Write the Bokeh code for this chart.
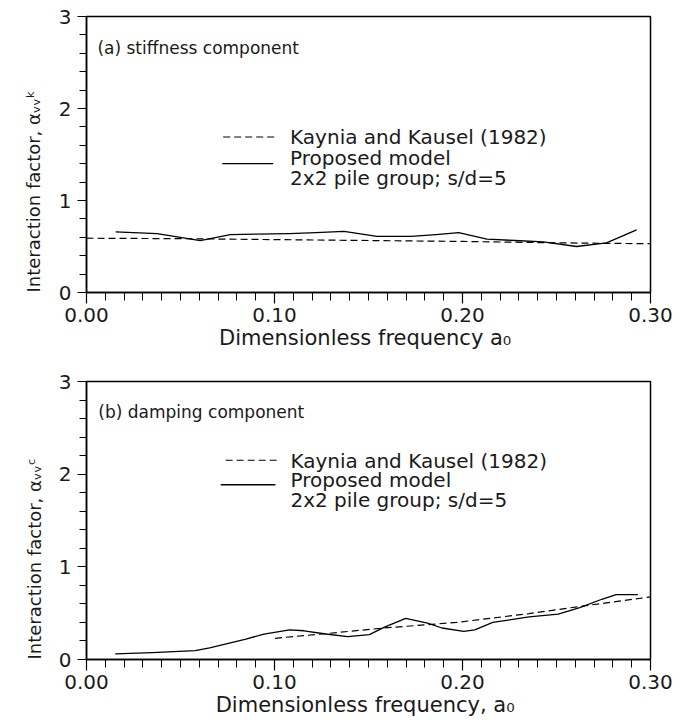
from bokeh.plotting import figure
from bokeh.layouts import column
from bokeh.models import Range1d, FixedTicker, Label, NumeralTickFormatter, Title
from bokeh.embed import file_html
from bokeh.resources import INLINE

# ---------------- data ----------------
# (a) stiffness component
a_prop_x = [0.0155, 0.0375, 0.050, 0.0605, 0.0765, 0.090, 0.108, 0.122, 0.137,
            0.1545, 0.1726, 0.186, 0.198, 0.213, 0.228, 0.243, 0.2607, 0.2766, 0.2926]
a_prop_y = [0.66, 0.64, 0.60, 0.565, 0.63, 0.635, 0.64, 0.65, 0.665,
            0.61, 0.61, 0.63, 0.65, 0.58, 0.565, 0.55, 0.50, 0.54, 0.68]
a_kk_x = [0.00, 0.05, 0.10, 0.15, 0.20, 0.25, 0.30]
a_kk_y = [0.59, 0.585, 0.575, 0.565, 0.555, 0.54, 0.53]

# (b) damping component
b_prop_x = [0.0153, 0.035, 0.0578, 0.0655, 0.0848, 0.0944, 0.108, 0.1157, 0.1273,
            0.1389, 0.1505, 0.1582, 0.1698, 0.1814, 0.1891, 0.2007, 0.2065, 0.2161,
            0.2354, 0.2509, 0.2624, 0.2741, 0.2817, 0.2933]
b_prop_y = [0.061, 0.075, 0.096, 0.125, 0.22, 0.275, 0.32, 0.31, 0.275,
            0.247, 0.268, 0.346, 0.443, 0.393, 0.34, 0.303, 0.32, 0.40,
            0.46, 0.49, 0.56, 0.65, 0.70, 0.70]
b_kk_x = [0.1003, 0.1292, 0.1582, 0.1968, 0.2354, 0.2644, 0.30]
b_kk_y = [0.229, 0.283, 0.34, 0.40, 0.496, 0.578, 0.675]

x_ticks = [0.0, 0.1, 0.2, 0.3]
x_minor = [i / 100 for i in range(0, 31)]
y_ticks = [0, 1, 2, 3]
y_minor = [i / 5 for i in range(0, 16)]

legend_kk = "Kaynia and Kausel (1982)"
legend_prop = "Proposed model"
legend_prop2 = "2x2 pile group; s/d=5"

FONT = "DejaVu Sans"


def make_panel(height, left, right, top, bottom, ylabel, xlabel, panel_label,
               prop_x, prop_y, kk_x, kk_y, leg):
    p = figure(width=688, height=height, output_backend="svg", toolbar_location=None,
               x_range=Range1d(0, 0.30), y_range=Range1d(0, 3),
               min_border_left=left, min_border_right=right,
               min_border_top=top, min_border_bottom=bottom,
               background_fill_color="white", border_fill_color="white")
    p.xgrid.visible = False
    p.ygrid.visible = False
    p.outline_line_color = "black"
    p.outline_line_width = 1.5

    p.line(kk_x, kk_y, line_color="black", line_width=1.2, line_dash="7 4")
    p.line(prop_x, prop_y, line_color="black", line_width=1.3, line_join="round")

    xa = p.xaxis[0]
    xa.ticker = FixedTicker(ticks=x_ticks, minor_ticks=x_minor)
    xa.formatter = NumeralTickFormatter(format="0.00")
    ya = p.yaxis[0]
    ya.ticker = FixedTicker(ticks=y_ticks, minor_ticks=y_minor)
    for ax in (xa, ya):
        ax.axis_line_color = "black"
        ax.axis_line_width = 1.5
        ax.major_tick_line_color = "black"
        ax.minor_tick_line_color = "black"
        ax.major_tick_line_width = 1.2
        ax.minor_tick_line_width = 1.0
        ax.major_tick_in = 0
        ax.minor_tick_in = 0
        ax.major_label_text_font = FONT
        ax.major_label_text_color = "#1a1a1a"
        ax.major_label_text_font_size = "20px"
        ax.axis_label_text_font = FONT
        ax.axis_label_text_font_style = "normal"
        ax.axis_label_text_color = "#1a1a1a"
    xa.major_tick_out = 11
    xa.minor_tick_out = 8
    ya.major_tick_out = 9
    ya.minor_tick_out = 7
    xa.axis_label = xlabel
    xa.axis_label_text_font_size = "21px"
    xa.axis_label_standoff = 1
    xa.major_label_standoff = 4
    ya.major_label_standoff = 6

    # y-axis title, bottom-aligned with the axis origin as in the original
    p.add_layout(Title(text=ylabel, align="left", text_font=FONT,
                       text_font_size="18px", text_font_style="normal",
                       text_color="#1a1a1a", standoff=leg["ystand"], offset=0),
                 "left")

    p.add_layout(Label(x=leg["panel"][0], y=leg["panel"][1], text=panel_label,
                       text_font=FONT, text_font_size="17px", text_color="#1a1a1a",
                       text_baseline="middle", text_align="left"))
    # legend samples
    p.line(leg["dash_x"], [leg["dash_y"]] * 2, line_color="black", line_width=1.2,
           line_dash="7 4")
    p.line(leg["solid_x"], [leg["solid_y"]] * 2, line_color="black", line_width=1.3)
    for txt, yy in zip([legend_kk, legend_prop, legend_prop2], leg["rows"]):
        p.add_layout(Label(x=leg["text_x"], y=yy, text=txt, text_font=FONT,
                           text_font_size="20px", text_color="#1a1a1a",
                           text_baseline="middle", text_align="left"))
    return p


leg_a = dict(panel=(0.0058, 2.66), dash_x=[0.0727, 0.1014], dash_y=1.69,
             solid_x=[0.0722, 0.0993], solid_y=1.40, text_x=0.1083,
             rows=[1.69, 1.46, 1.245], ystand=24)
leg_b = dict(panel=(0.0063, 2.67), dash_x=[0.074, 0.1016], dash_y=2.15,
             solid_x=[0.0714, 0.1005], solid_y=1.886, text_x=0.1085,
             rows=[2.14, 1.94, 1.726], ystand=22)

p1 = make_panel(352, 86, 37, 16, 58, "Interaction factor, αᵥᵥᵏ",
                "Dimensionless frequency  a₀", "(a) stiffness component",
                a_prop_x, a_prop_y, a_kk_x, a_kk_y, leg_a)
p2 = make_panel(374, 83, 38, 29, 67, "Interaction factor, αᵥᵥᶜ",
                "Dimensionless frequency,  a₀", "(b) damping component",
                b_prop_x, b_prop_y, b_kk_x, b_kk_y, leg_b)

layout = column(p1, p2, spacing=0)
open("out.html", "w").write(file_html(layout, INLINE))
